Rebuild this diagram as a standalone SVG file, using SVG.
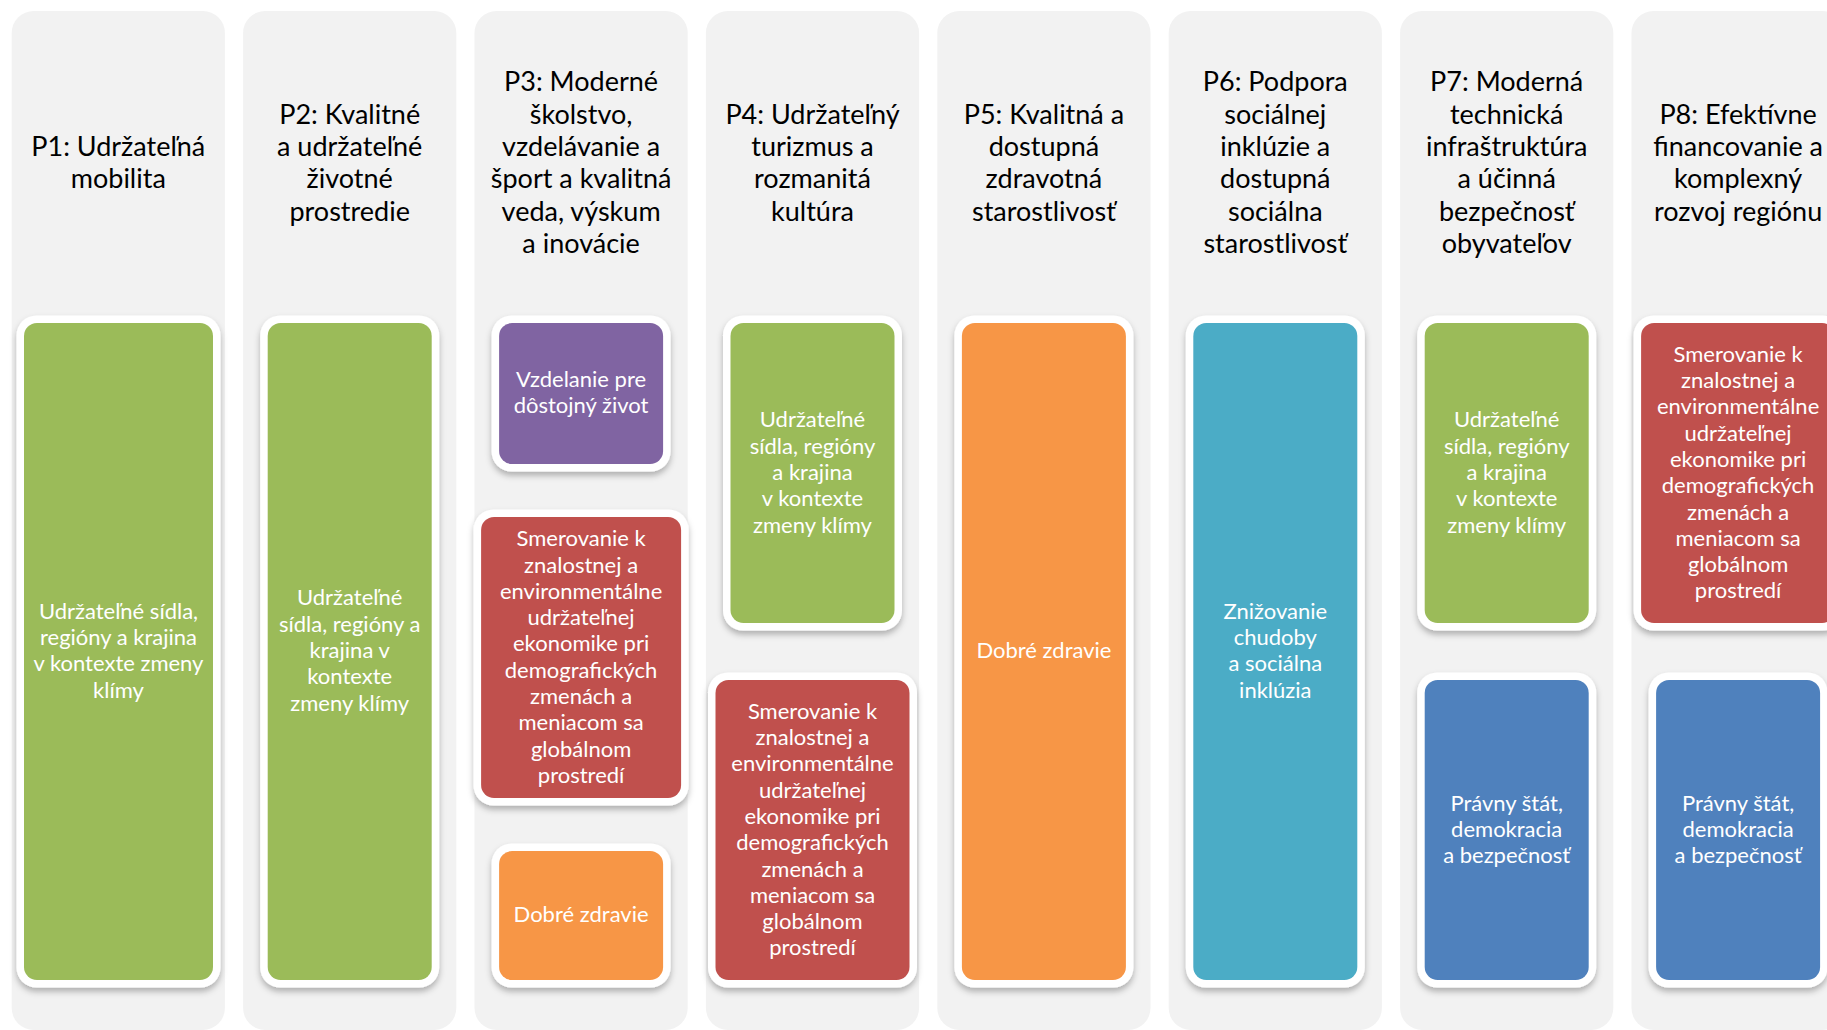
<svg xmlns="http://www.w3.org/2000/svg" width="1827" height="1030" viewBox="0 0 1827 1030">
<defs>
<filter id="sh" x="-20%" y="-20%" width="140%" height="140%">
<feDropShadow dx="0" dy="4" stdDeviation="3" flood-color="#000" flood-opacity="0.28"/>
</filter>
<style>
.col{fill:#F2F2F2}
.hdr{font-family:Lato,"Open Sans","Liberation Sans",sans-serif;font-size:27px;fill:#000;text-anchor:middle}
.frame{fill:#FFFFFF;filter:url(#sh)}
.lbl{font-family:Lato,"Open Sans","Liberation Sans",sans-serif;font-size:22px;fill:#FFFFFF;text-anchor:middle}
.green{fill:#9BBB59}
.purple{fill:#8064A2}
.red{fill:#C0504D}
.orange{fill:#F79646}
.teal{fill:#4BACC6}
.blue{fill:#4F81BD}
</style>
</defs>
<rect width="1827" height="1030" fill="#FFFFFF"/>

<g id="p1">
<rect class="col" x="11.7" y="11" width="213.2" height="1019" rx="22"/>
<text class="hdr"><tspan x="118.3" y="155.9">P1: Udržateľná</tspan><tspan x="118.3" y="188.2">mobilita</tspan></text>
<g id="p1-b1">
<rect class="frame" x="16.5" y="315.5" width="204" height="672" rx="20"/>
<rect class="green" x="24" y="323" width="189" height="657" rx="13"/>
<text class="lbl"><tspan x="118.5" y="618.6">Udržateľné sídla,</tspan><tspan x="118.5" y="644.9">regióny a krajina</tspan><tspan x="118.5" y="671.2">v kontexte zmeny</tspan><tspan x="118.5" y="697.5">klímy</tspan></text>
</g>
</g>

<g id="p2">
<rect class="col" x="243.1" y="11" width="213.2" height="1019" rx="22"/>
<text class="hdr"><tspan x="349.7" y="123.6">P2: Kvalitné</tspan><tspan x="349.7" y="155.9">a udržateľné</tspan><tspan x="349.7" y="188.2">životné</tspan><tspan x="349.7" y="220.5">prostredie</tspan></text>
<g id="p2-b1">
<rect class="frame" x="260.2" y="315.5" width="179" height="672" rx="20"/>
<rect class="green" x="267.7" y="323" width="164" height="657" rx="13"/>
<text class="lbl"><tspan x="349.7" y="605.4">Udržateľné</tspan><tspan x="349.7" y="631.7">sídla, regióny a</tspan><tspan x="349.7" y="658">krajina v</tspan><tspan x="349.7" y="684.3">kontexte</tspan><tspan x="349.7" y="710.6">zmeny klímy</tspan></text>
</g>
</g>

<g id="p3">
<rect class="col" x="474.5" y="11" width="213.2" height="1019" rx="22"/>
<text class="hdr"><tspan x="581.1" y="91.3">P3: Moderné</tspan><tspan x="581.1" y="123.6">školstvo,</tspan><tspan x="581.1" y="155.9">vzdelávanie a</tspan><tspan x="581.1" y="188.2">šport a kvalitná</tspan><tspan x="581.1" y="220.5">veda, výskum</tspan><tspan x="581.1" y="252.8">a inovácie</tspan></text>
<g id="p3-b1">
<rect class="frame" x="491.6" y="315.5" width="179" height="156" rx="20"/>
<rect class="purple" x="499.1" y="323" width="164" height="141" rx="13"/>
<text class="lbl"><tspan x="581.1" y="386.9">Vzdelanie pre</tspan><tspan x="581.1" y="413.2">dôstojný život</tspan></text>
</g>
<g id="p3-b2">
<rect class="frame" x="473.6" y="509.5" width="215" height="296" rx="20"/>
<rect class="red" x="481.1" y="517" width="200" height="281" rx="13"/>
<text class="lbl"><tspan x="581.1" y="546.2">Smerovanie k</tspan><tspan x="581.1" y="572.5">znalostnej a</tspan><tspan x="581.1" y="598.8">environmentálne</tspan><tspan x="581.1" y="625.1">udržateľnej</tspan><tspan x="581.1" y="651.4">ekonomike pri</tspan><tspan x="581.1" y="677.7">demografických</tspan><tspan x="581.1" y="704">zmenách a</tspan><tspan x="581.1" y="730.3">meniacom sa</tspan><tspan x="581.1" y="756.6">globálnom</tspan><tspan x="581.1" y="782.9">prostredí</tspan></text>
</g>
<g id="p3-b3">
<rect class="frame" x="491.6" y="843.5" width="179" height="144" rx="20"/>
<rect class="orange" x="499.1" y="851" width="164" height="129" rx="13"/>
<text class="lbl"><tspan x="581.1" y="922">Dobré zdravie</tspan></text>
</g>
</g>

<g id="p4">
<rect class="col" x="705.9" y="11" width="213.2" height="1019" rx="22"/>
<text class="hdr"><tspan x="812.5" y="123.6">P4: Udržateľný</tspan><tspan x="812.5" y="155.9">turizmus a</tspan><tspan x="812.5" y="188.2">rozmanitá</tspan><tspan x="812.5" y="220.5">kultúra</tspan></text>
<g id="p4-b1">
<rect class="frame" x="723" y="315.5" width="179" height="315" rx="20"/>
<rect class="green" x="730.5" y="323" width="164" height="300" rx="13"/>
<text class="lbl"><tspan x="812.5" y="427.4">Udržateľné</tspan><tspan x="812.5" y="453.7">sídla, regióny</tspan><tspan x="812.5" y="480">a krajina</tspan><tspan x="812.5" y="506.3">v kontexte</tspan><tspan x="812.5" y="532.6">zmeny klímy</tspan></text>
</g>
<g id="p4-b2">
<rect class="frame" x="708" y="672.5" width="209" height="315" rx="20"/>
<rect class="red" x="715.5" y="680" width="194" height="300" rx="13"/>
<text class="lbl"><tspan x="812.5" y="718.7">Smerovanie k</tspan><tspan x="812.5" y="745">znalostnej a</tspan><tspan x="812.5" y="771.3">environmentálne</tspan><tspan x="812.5" y="797.6">udržateľnej</tspan><tspan x="812.5" y="823.9">ekonomike pri</tspan><tspan x="812.5" y="850.2">demografických</tspan><tspan x="812.5" y="876.5">zmenách a</tspan><tspan x="812.5" y="902.8">meniacom sa</tspan><tspan x="812.5" y="929.1">globálnom</tspan><tspan x="812.5" y="955.4">prostredí</tspan></text>
</g>
</g>

<g id="p5">
<rect class="col" x="937.3" y="11" width="213.2" height="1019" rx="22"/>
<text class="hdr"><tspan x="1043.9" y="123.6">P5: Kvalitná a</tspan><tspan x="1043.9" y="155.9">dostupná</tspan><tspan x="1043.9" y="188.2">zdravotná</tspan><tspan x="1043.9" y="220.5">starostlivosť</tspan></text>
<g id="p5-b1">
<rect class="frame" x="954.4" y="315.5" width="179" height="672" rx="20"/>
<rect class="orange" x="961.9" y="323" width="164" height="657" rx="13"/>
<text class="lbl"><tspan x="1043.9" y="658">Dobré zdravie</tspan></text>
</g>
</g>

<g id="p6">
<rect class="col" x="1168.7" y="11" width="213.2" height="1019" rx="22"/>
<text class="hdr"><tspan x="1275.3" y="91.3">P6: Podpora</tspan><tspan x="1275.3" y="123.6">sociálnej</tspan><tspan x="1275.3" y="155.9">inklúzie a</tspan><tspan x="1275.3" y="188.2">dostupná</tspan><tspan x="1275.3" y="220.5">sociálna</tspan><tspan x="1275.3" y="252.8">starostlivosť</tspan></text>
<g id="p6-b1">
<rect class="frame" x="1185.8" y="315.5" width="179" height="672" rx="20"/>
<rect class="teal" x="1193.3" y="323" width="164" height="657" rx="13"/>
<text class="lbl"><tspan x="1275.3" y="618.6">Znižovanie</tspan><tspan x="1275.3" y="644.9">chudoby</tspan><tspan x="1275.3" y="671.2">a sociálna</tspan><tspan x="1275.3" y="697.5">inklúzia</tspan></text>
</g>
</g>

<g id="p7">
<rect class="col" x="1400.1" y="11" width="213.2" height="1019" rx="22"/>
<text class="hdr"><tspan x="1506.7" y="91.3">P7: Moderná</tspan><tspan x="1506.7" y="123.6">technická</tspan><tspan x="1506.7" y="155.9">infraštruktúra</tspan><tspan x="1506.7" y="188.2">a účinná</tspan><tspan x="1506.7" y="220.5">bezpečnosť</tspan><tspan x="1506.7" y="252.8">obyvateľov</tspan></text>
<g id="p7-b1">
<rect class="frame" x="1417.2" y="315.5" width="179" height="315" rx="20"/>
<rect class="green" x="1424.7" y="323" width="164" height="300" rx="13"/>
<text class="lbl"><tspan x="1506.7" y="427.4">Udržateľné</tspan><tspan x="1506.7" y="453.7">sídla, regióny</tspan><tspan x="1506.7" y="480">a krajina</tspan><tspan x="1506.7" y="506.3">v kontexte</tspan><tspan x="1506.7" y="532.6">zmeny klímy</tspan></text>
</g>
<g id="p7-b2">
<rect class="frame" x="1417.2" y="672.5" width="179" height="315" rx="20"/>
<rect class="blue" x="1424.7" y="680" width="164" height="300" rx="13"/>
<text class="lbl"><tspan x="1506.7" y="810.7">Právny štát,</tspan><tspan x="1506.7" y="837">demokracia</tspan><tspan x="1506.7" y="863.3">a bezpečnosť</tspan></text>
</g>
</g>

<g id="p8">
<rect class="col" x="1631.5" y="11" width="213.2" height="1019" rx="22"/>
<text class="hdr"><tspan x="1738.1" y="123.6">P8: Efektívne</tspan><tspan x="1738.1" y="155.9">financovanie a</tspan><tspan x="1738.1" y="188.2">komplexný</tspan><tspan x="1738.1" y="220.5">rozvoj regiónu</tspan></text>
<g id="p8-b1">
<rect class="frame" x="1633.6" y="315.5" width="209" height="315" rx="20"/>
<rect class="red" x="1641.1" y="323" width="194" height="300" rx="13"/>
<text class="lbl"><tspan x="1738.1" y="361.7">Smerovanie k</tspan><tspan x="1738.1" y="388">znalostnej a</tspan><tspan x="1738.1" y="414.3">environmentálne</tspan><tspan x="1738.1" y="440.6">udržateľnej</tspan><tspan x="1738.1" y="466.9">ekonomike pri</tspan><tspan x="1738.1" y="493.2">demografických</tspan><tspan x="1738.1" y="519.5">zmenách a</tspan><tspan x="1738.1" y="545.8">meniacom sa</tspan><tspan x="1738.1" y="572.1">globálnom</tspan><tspan x="1738.1" y="598.4">prostredí</tspan></text>
</g>
<g id="p8-b2">
<rect class="frame" x="1648.6" y="672.5" width="179" height="315" rx="20"/>
<rect class="blue" x="1656.1" y="680" width="164" height="300" rx="13"/>
<text class="lbl"><tspan x="1738.1" y="810.7">Právny štát,</tspan><tspan x="1738.1" y="837">demokracia</tspan><tspan x="1738.1" y="863.3">a bezpečnosť</tspan></text>
</g>
</g>
</svg>
